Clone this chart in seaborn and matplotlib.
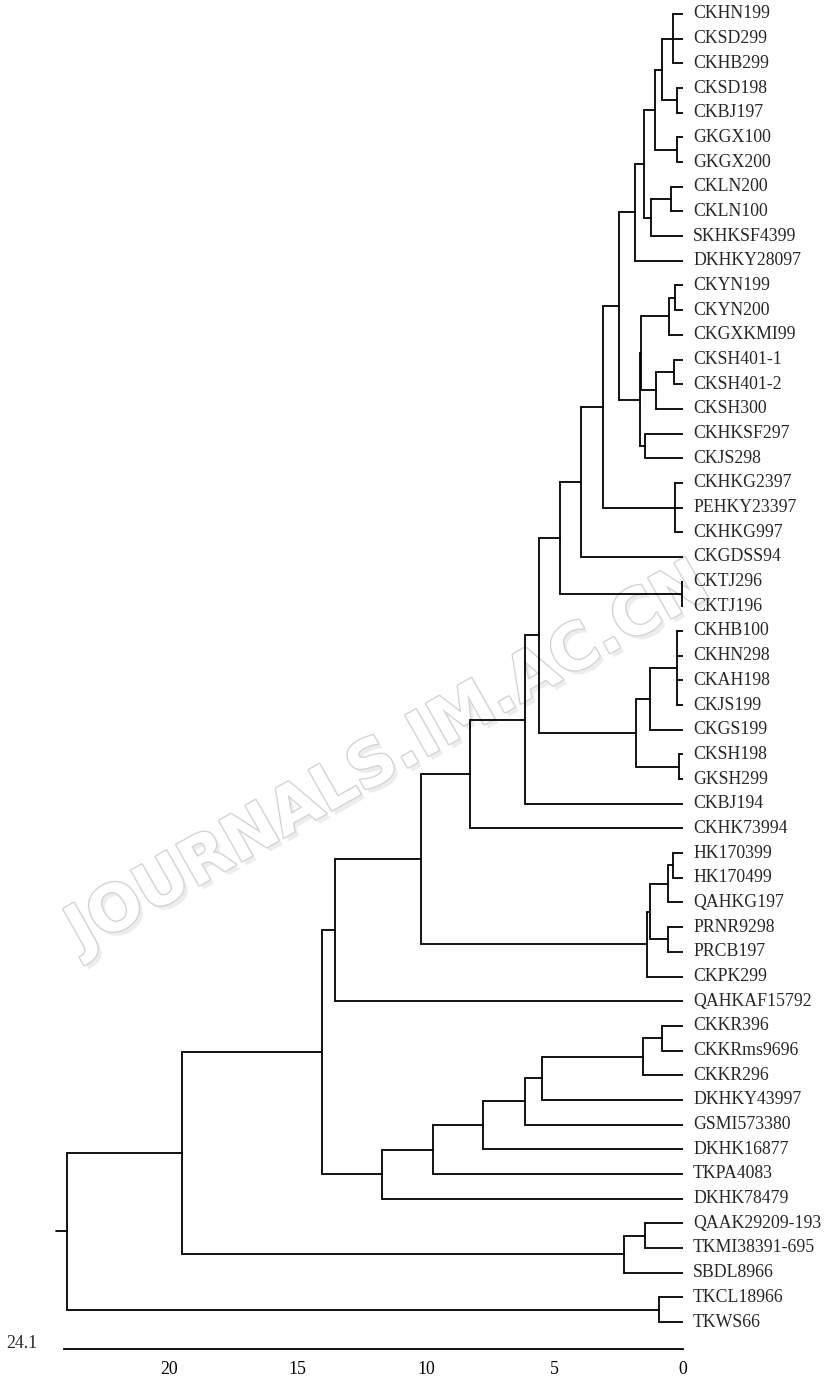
#!/usr/bin/env python3
"""
Dendrogram of strains (UPGMA-style), drawn with seaborn lineplot segments
"""

import numpy as np
import pandas as pd
import matplotlib
matplotlib.use("Agg")
import matplotlib.pyplot as plt
import matplotlib.patheffects as pe
import seaborn as sns

# leaves, top to bottom
leaf_names = [
    "CKHN199", "CKSD299", "CKHB299", "CKSD198", "CKBJ197", "GKGX100",
    "GKGX200", "CKLN200", "CKLN100", "SKHKSF4399", "DKHKY28097",
    "CKYN199", "CKYN200", "CKGXKMI99", "CKSH401-1", "CKSH401-2", "CKSH300",
    "CKHKSF297", "CKJS298", "CKHKG2397", "PEHKY23397", "CKHKG997",
    "CKGDSS94", "CKTJ296", "CKTJ196", "CKHB100", "CKHN298", "CKAH198",
    "CKJS199", "CKGS199", "CKSH198", "GKSH299", "CKBJ194", "CKHK73994",
    "HK170399", "HK170499", "QAHKG197", "PRNR9298", "PRCB197", "CKPK299",
    "QAHKAF15792", "CKKR396", "CKKRms9696", "CKKR296", "DKHKY43997",
    "GSMI573380", "DKHK16877", "TKPA4083", "DKHK78479", "QAAK29209-193",
    "TKMI38391-695", "SBDL8966", "TKCL18966", "TKWS66",
]

# merges m1..m49: children (leaf names or earlier merges) and joining distance
merge_children = [
    ["CKHN199", "CKSD299", "CKHB299"],           # m1
    ["CKSD198", "CKBJ197"],                      # m2
    ["m1", "m2"],                                # m3
    ["GKGX100", "GKGX200"],                      # m4
    ["m3", "m4"],                                # m5
    ["CKLN200", "CKLN100"],                      # m6
    ["m6", "SKHKSF4399"],                        # m7
    ["m5", "m7"],                                # m8
    ["m8", "DKHKY28097"],                        # m9
    ["CKYN199", "CKYN200"],                      # m10
    ["m10", "CKGXKMI99"],                        # m11
    ["CKSH401-1", "CKSH401-2"],                  # m12
    ["m12", "CKSH300"],                          # m13
    ["m11", "m13"],                              # m14
    ["CKHKSF297", "CKJS298"],                    # m15
    ["m14", "m15"],                              # m16
    ["m9", "m16"],                               # m17
    ["CKHKG2397", "PEHKY23397", "CKHKG997"],     # m18
    ["m17", "m18"],                              # m19
    ["m19", "CKGDSS94"],                         # m20
    ["CKTJ296", "CKTJ196"],                      # m21
    ["m20", "m21"],                              # m22
    ["CKHB100", "CKHN298", "CKAH198", "CKJS199"],  # m23
    ["m23", "CKGS199"],                          # m24
    ["CKSH198", "GKSH299"],                      # m25
    ["m24", "m25"],                              # m26
    ["m22", "m26"],                              # m27
    ["m27", "CKBJ194"],                          # m28
    ["m28", "CKHK73994"],                        # m29
    ["HK170399", "HK170499"],                    # m30
    ["m30", "QAHKG197"],                         # m31
    ["PRNR9298", "PRCB197"],                     # m32
    ["m31", "m32"],                              # m33
    ["m33", "CKPK299"],                          # m34
    ["m29", "m34"],                              # m35
    ["m35", "QAHKAF15792"],                      # m36
    ["CKKR396", "CKKRms9696"],                   # m37
    ["m37", "CKKR296"],                          # m38
    ["m38", "DKHKY43997"],                       # m39
    ["m39", "GSMI573380"],                       # m40
    ["m40", "DKHK16877"],                        # m41
    ["m41", "TKPA4083"],                         # m42
    ["m42", "DKHK78479"],                        # m43
    ["m36", "m43"],                              # m44
    ["QAAK29209-193", "TKMI38391-695"],          # m45
    ["m45", "SBDL8966"],                         # m46
    ["m44", "m46"],                              # m47
    ["TKCL18966", "TKWS66"],                     # m48
    ["m47", "m48"],                              # m49 (root)
]
merge_heights = [
    0.39, 0.25, 0.80, 0.25, 1.10, 0.45, 1.25, 1.50, 1.85,
    0.30, 0.55, 0.35, 1.06, 1.64, 1.48, 1.66, 2.50,
    0.31, 3.12, 3.95, 0.05, 4.77,
    0.23, 1.30, 0.16, 1.82, 5.60, 6.13, 8.28,
    0.39, 0.60, 0.57, 1.30, 1.42, 10.20, 13.55,
    0.82, 1.55, 5.50, 6.15, 7.80, 9.72, 11.70, 14.05,
    1.48, 2.28, 19.50, 0.95, 23.95,
]

scale_max = 24.1
tick_values = [20, 15, 10, 5, 0]


def build_segments():
    """Turn the merge table into line segments (x = distance, y = leaf row)"""
    pos = {name: (0.0, float(i)) for i, name in enumerate(leaf_names)}
    rows = []
    seg = 0
    for k, (kids, h) in enumerate(zip(merge_children, merge_heights)):
        ys = [pos[c][1] for c in kids]
        lo, hi = min(ys), max(ys)
        rows += [(seg, h, lo), (seg, h, hi)]
        seg += 1
        for c in kids:
            cx, cy = pos[c]
            rows += [(seg, h, cy), (seg, cx, cy)]
            seg += 1
        pos["m%d" % (k + 1)] = (h, (lo + hi) / 2)
    # short stub left of the root
    rh, ry = pos["m%d" % len(merge_heights)]
    rows += [(seg, rh, ry), (seg, rh + 0.45, ry)]
    return pd.DataFrame(rows, columns=["seg", "x", "y"])


def main():
    sns.set_style("white")
    plt.rcParams["font.family"] = ["Liberation Serif", "DejaVu Serif"]

    W, H = 834, 1384
    fig = plt.figure(figsize=(W / 100, H / 100), dpi=100)
    # axes: x from px 40 to 683 (distance 0 at right), y rows from top
    px_per_unit = 25.7
    row_px = 24.68

    # faint publisher watermark, kept behind the tree (outlined letters)
    fig.text(388 / W, 1 - 758 / H, "JOURNALS.IM.AC.CN", rotation=29.5,
             rotation_mode="anchor", ha="center", va="center",
             fontsize=46, fontweight="bold", family="DejaVu Sans",
             color="white", zorder=-5,
             path_effects=[
                 pe.SimplePatchShadow(offset=(3, -3), shadow_rgbFace="#dcdcdc",
                                      alpha=0.5),
                 pe.Stroke(linewidth=2.0, foreground="#d4d4d4"),
                 pe.Normal(),
             ])

    ax = fig.add_axes([40 / W, 35 / H, 643 / W, 1349 / H])
    ax.patch.set_alpha(0)

    df = build_segments()
    sns.lineplot(data=df, x="x", y="y", units="seg", estimator=None,
                 sort=False, color="black", linewidth=1.3, ax=ax,
                 legend=False)

    ax.set_xlim(643 / px_per_unit, 0)
    ax.set_ylim((1349 - 14) / row_px, -14 / row_px)

    for i, name in enumerate(leaf_names):
        ax.text(-10 / px_per_unit, i, name, ha="left", va="center",
                fontsize=12.8, clip_on=False)

    for side in ["left", "top", "right"]:
        ax.spines[side].set_visible(False)
    ax.spines["bottom"].set_bounds(0, scale_max)
    ax.spines["bottom"].set_linewidth(1.3)
    ax.spines["bottom"].set_color("black")
    ax.set_xticks(tick_values)
    ax.set_xticklabels([str(t) for t in tick_values])
    ax.set_yticks([])
    ax.tick_params(axis="x", length=5, width=1.2, direction="out", pad=4,
                   labelsize=12.8, colors="black")
    ax.set_xlabel("")
    ax.set_ylabel("")

    fig.text(6 / W, 1 - 1343 / H, "%.1f" % scale_max, ha="left",
             va="center", fontsize=12.8)

    fig.savefig("out.png", dpi=100)
    plt.close(fig)


if __name__ == "__main__":
    main()
